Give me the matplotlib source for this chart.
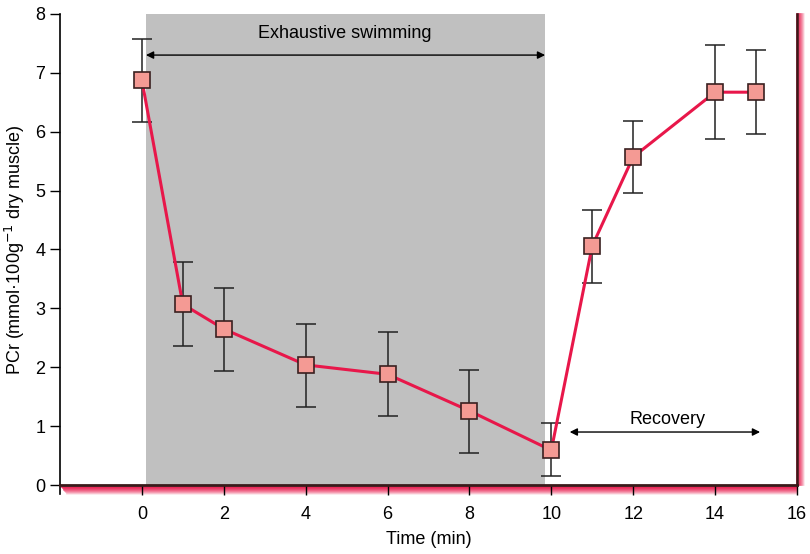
import matplotlib
matplotlib.use("Agg")
import matplotlib.pyplot as plt
from matplotlib.lines import Line2D

# Data
time = [0, 1, 2, 4, 6, 8, 10, 11, 12, 14, 15]
pcr = [6.88, 3.07, 2.65, 2.04, 1.88, 1.26, 0.59, 4.06, 5.57, 6.67, 6.67]
err_hi = [7.57, 3.79, 3.34, 2.73, 2.60, 1.95, 1.05, 4.67, 6.18, 7.47, 7.38]
err_lo = [6.16, 2.36, 1.94, 1.32, 1.17, 0.54, 0.15, 3.43, 4.96, 5.87, 5.96]
xticks = [0, 2, 4, 6, 8, 10, 12, 14, 16]
yticks = [0, 1, 2, 3, 4, 5, 6, 7, 8]
swim_span = (0.1, 9.85)
recovery_span = (10.45, 15.1)

plt.rcParams['font.family'] = ['Liberation Sans', 'DejaVu Sans']

fig = plt.figure(figsize=(8.1, 5.54), dpi=100)
ax = fig.add_axes([0.074, 0.1245, 0.9099, 0.8505])
ax.set_xlim(-2, 16)
ax.set_ylim(0, 8)

ax.axvspan(swim_span[0], swim_span[1], color='#c0c0c0', zorder=0, lw=0)

yerr = [[p - l for p, l in zip(pcr, err_lo)], [h - p for p, h in zip(pcr, err_hi)]]
ax.errorbar(time, pcr, yerr=yerr, fmt='none', ecolor='#222222', elinewidth=1.1,
            capsize=7, capthick=1.1, zorder=2)
ax.plot(time, pcr, color='#e8174a', lw=2.2, zorder=3)
ax.plot(time, pcr, ls='none', marker='s', ms=11, mfc='#f49a94', mec='#3a2020',
        mew=1.2, zorder=4)

# Arrows
ax.annotate('', xy=(swim_span[0], 7.3), xytext=(swim_span[1], 7.3),
            arrowprops=dict(arrowstyle='<|-|>', color='black', lw=1.0,
                            mutation_scale=11, shrinkA=0, shrinkB=0), zorder=5)
ax.text(4.95, 7.67, 'Exhaustive swimming', ha='center', va='center', fontsize=13)
ax.annotate('', xy=(recovery_span[0], 0.9), xytext=(recovery_span[1], 0.9),
            arrowprops=dict(arrowstyle='<|-|>', color='black', lw=1.0,
                            mutation_scale=11, shrinkA=0, shrinkB=0), zorder=5)
ax.text(12.83, 1.12, 'Recovery', ha='center', va='center', fontsize=13)

# Spines
ax.spines['top'].set_visible(False)
ax.spines['right'].set_visible(False)
ax.spines['bottom'].set_color('#3a1a1a')
ax.spines['bottom'].set_linewidth(2)
ax.spines['left'].set_linewidth(1.2)

# red shadows
for i in range(8):
    a = 0.9 * (1 - i / 8)
    ax.add_line(Line2D([0.003 + i * 0.001, 1.0], [-0.004 - i * 0.0023, -0.004 - i * 0.0023],
                       transform=ax.transAxes, color='#e8174a', alpha=a, lw=1.2, clip_on=False, zorder=1))
    ax.add_line(Line2D([1.0 + i * 0.0013, 1.0 + i * 0.0013], [0.0, 1.0],
                       transform=ax.transAxes, color='#e8174a', alpha=a, lw=1.2, clip_on=False, zorder=1))
ax.add_line(Line2D([1.0, 1.0], [0, 1], transform=ax.transAxes, color='#3a1a1a', lw=1.8,
                   clip_on=False, zorder=6))
# left spine extends below
ax.add_line(Line2D([0, 0], [-0.02, 0], transform=ax.transAxes, color='black', lw=1.2,
                   clip_on=False))

ax.set_xticks(xticks)
ax.set_yticks(yticks)
ax.tick_params(axis='both', direction='out', length=7, width=1, labelsize=13)
ax.tick_params(axis='x', pad=8)
ax.set_xlabel('Time (min)', fontsize=13, labelpad=6)
ax.set_ylabel('PCr (mmol·100g$^{-1}$ dry muscle)', fontsize=13, labelpad=6)

fig.savefig('out.png', dpi=100)
